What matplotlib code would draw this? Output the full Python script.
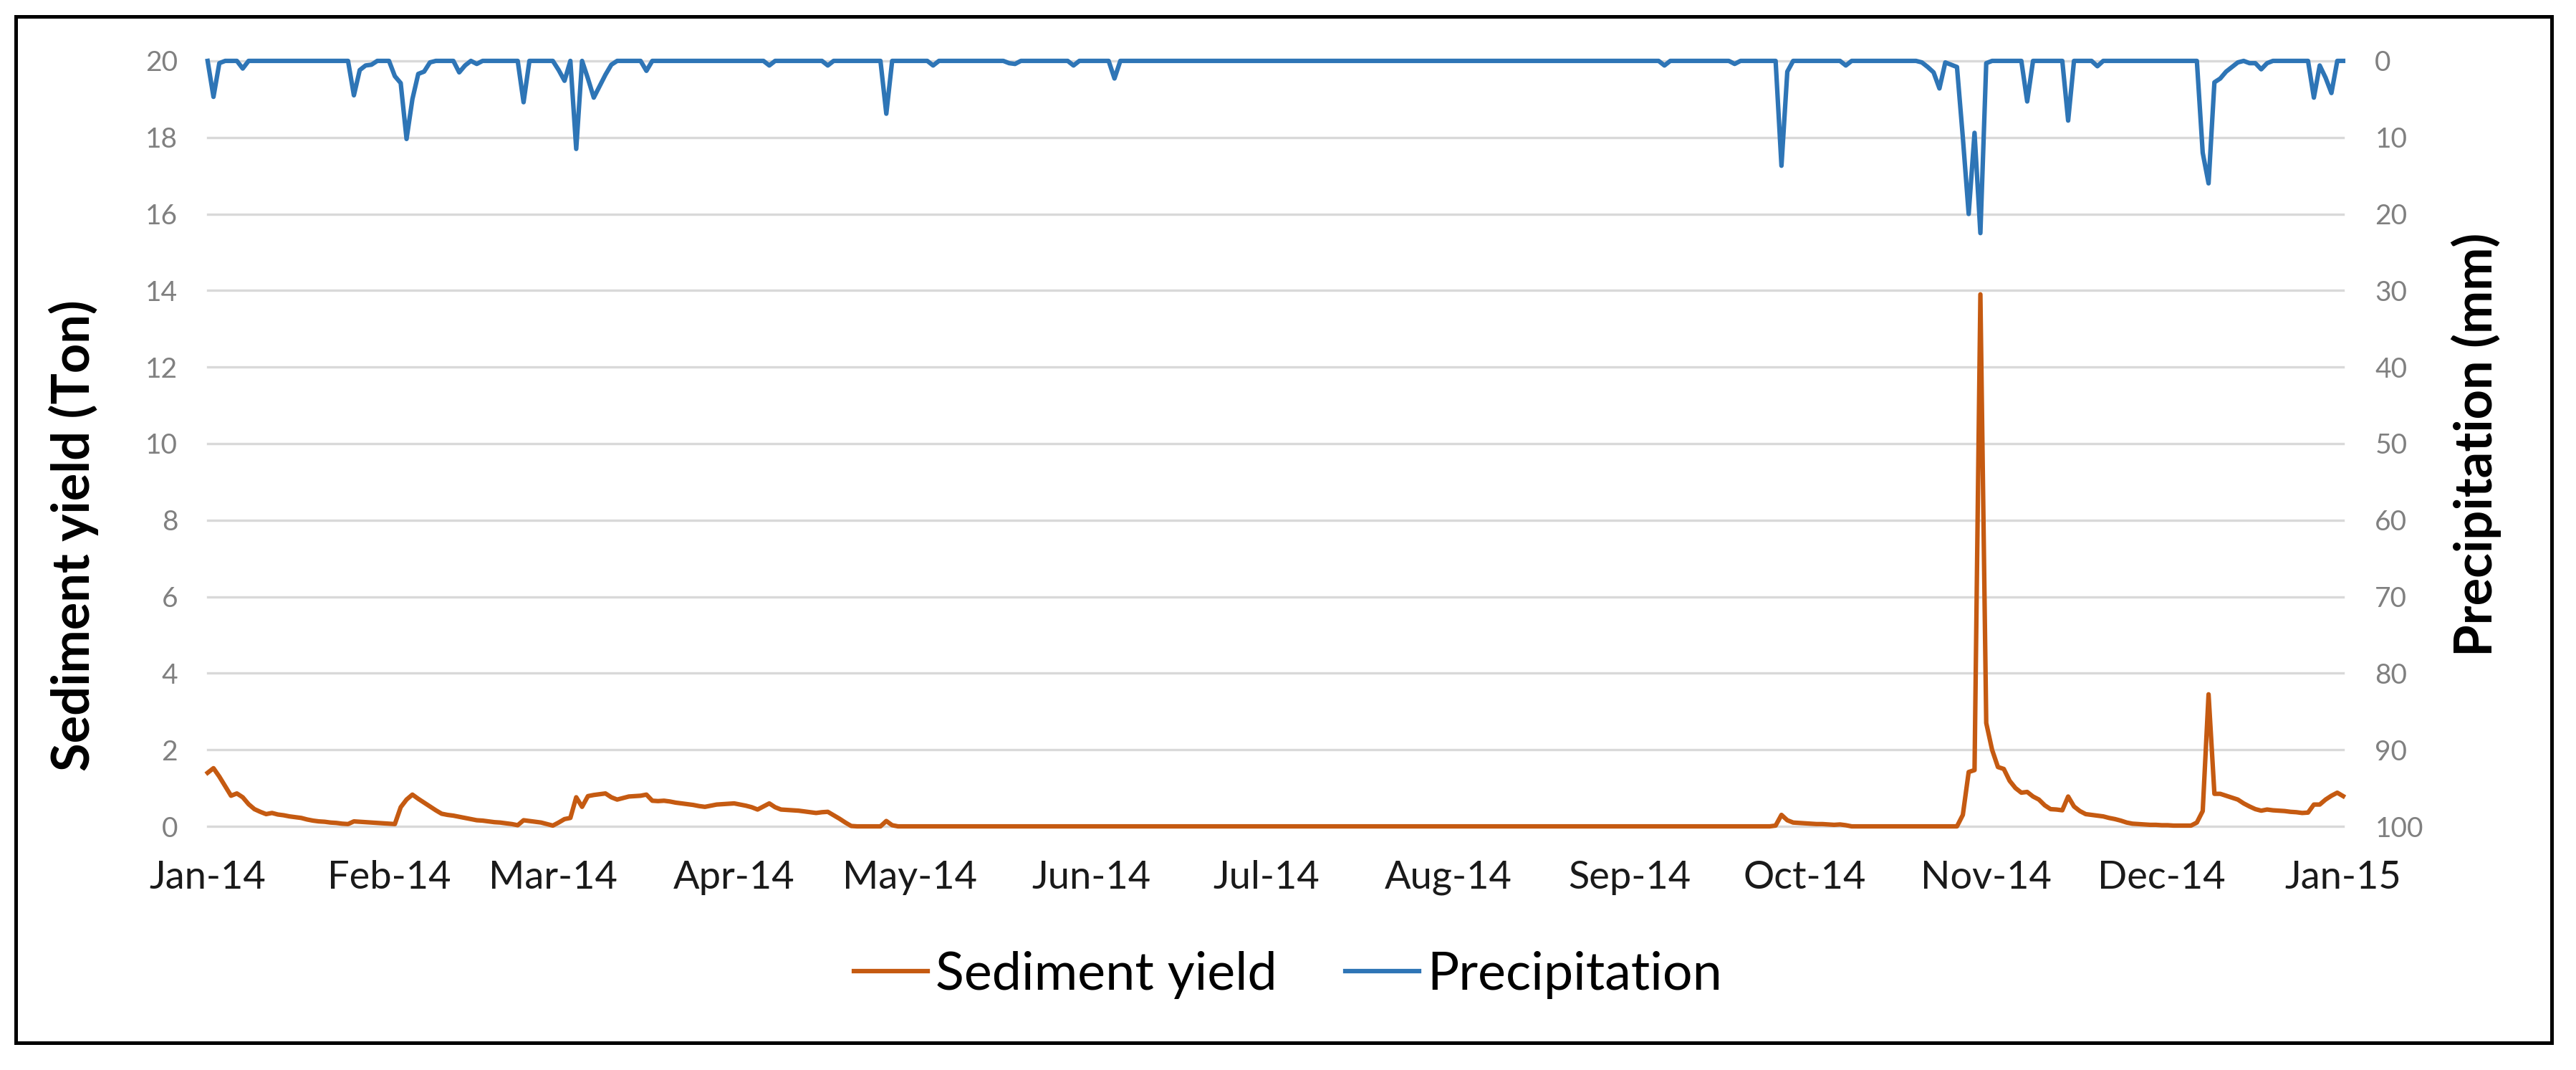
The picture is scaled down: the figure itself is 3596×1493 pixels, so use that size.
import matplotlib
matplotlib.use("Agg")
import matplotlib.pyplot as plt
import matplotlib.dates as mdates
from matplotlib.patches import Rectangle
import numpy as np
import pandas as pd

plt.rcParams['font.family'] = ['Lato', 'DejaVu Sans']

# daily series, 2014-01-01 .. 2015-01-01
dates = pd.date_range("2014-01-01", "2015-01-01", freq="D")

# precipitation (mm) on rainy days, day = days after 2014-01-01; all other days 0
rain_day = [1, 2, 6, 25, 26, 27, 28, 32, 33, 34, 35, 36, 37, 38, 43, 44, 46, 54,
            60, 61, 63, 65, 66, 67, 68, 69, 75, 96, 106, 116, 124, 137, 138, 148,
            155, 249, 261, 269, 270, 280, 293, 294, 295, 296, 297, 298, 299, 300,
            301, 302, 303, 304, 311, 318, 323, 341, 342, 343, 344, 345, 346, 347,
            349, 350, 351, 352, 360, 361, 362, 363]
rain_mm = [4.7, 0.3, 1.0, 4.5, 1.2, 0.6, 0.5, 2.0, 2.9, 10.2, 5.0, 1.7, 1.4, 0.2,
           1.5, 0.6, 0.4, 5.4, 1.2, 2.6, 11.5, 2.3, 4.8, 3.3, 1.8, 0.5, 1.3, 0.6,
           0.6, 6.9, 0.6, 0.3, 0.4, 0.6, 2.3, 0.6, 0.4, 13.7, 1.4, 0.6, 0.2, 0.8,
           1.5, 3.6, 0.2, 0.5, 0.8, 10.0, 20.0, 9.4, 22.5, 0.3, 5.3, 7.8, 0.7,
           12.0, 16.0, 2.8, 2.3, 1.4, 0.8, 0.2, 0.3, 0.3, 1.1, 0.3, 4.8, 0.6, 2.2,
           4.2]

# sediment yield (Ton), non-zero stretches; zero elsewhere
sed_jan_apr = [1.40, 1.52, 1.30, 1.05, 0.80, 0.86, 0.76, 0.58, 0.45, 0.38,
               0.32, 0.35, 0.31, 0.29, 0.26, 0.24, 0.22, 0.18, 0.15, 0.13,
               0.12, 0.10, 0.09, 0.07, 0.06, 0.13, 0.12, 0.11, 0.10, 0.09,
               0.08, 0.07, 0.06, 0.50, 0.70, 0.83, 0.72, 0.62, 0.52, 0.42,
               0.33, 0.30, 0.28, 0.25, 0.22, 0.19, 0.16, 0.15, 0.13, 0.11,
               0.10, 0.08, 0.06, 0.03, 0.16, 0.14, 0.12, 0.10, 0.06, 0.02,
               0.10, 0.19, 0.22, 0.76, 0.51, 0.79, 0.82, 0.84, 0.86, 0.76,
               0.70, 0.74, 0.78, 0.79, 0.80, 0.83, 0.67, 0.66, 0.67, 0.65,
               0.62, 0.60, 0.58, 0.56, 0.53, 0.51, 0.54, 0.57, 0.58, 0.59,
               0.60, 0.57, 0.54, 0.50, 0.44, 0.52, 0.60, 0.50, 0.44, 0.43,
               0.42, 0.41, 0.39, 0.37, 0.35, 0.37, 0.38, 0.29, 0.20, 0.10,
               0.01, 0.0, 0.0, 0.0, 0.0, 0.0, 0.14, 0.03, 0.0]
sed_late_sep = [0.02, 0.30, 0.16, 0.10, 0.09, 0.08, 0.07, 0.06, 0.06, 0.05,
                0.04, 0.05, 0.03]
sed_nov_dec = [0.00, 0.30, 1.42, 1.47, 13.9, 2.70, 2.00, 1.55, 1.50, 1.19,
               1.00, 0.88, 0.90, 0.78, 0.70, 0.55, 0.45, 0.44, 0.42, 0.78,
               0.52, 0.40, 0.32, 0.30, 0.28, 0.26, 0.22, 0.19, 0.15, 0.10,
               0.07, 0.06, 0.05, 0.04, 0.04, 0.03, 0.03, 0.02, 0.02, 0.02,
               0.02, 0.10, 0.40, 3.45, 0.85, 0.85, 0.80, 0.75, 0.70, 0.60,
               0.52, 0.45, 0.41, 0.44, 0.42, 0.41, 0.40, 0.38, 0.37, 0.35,
               0.36, 0.57, 0.57, 0.70, 0.80, 0.88, 0.79]

precip = pd.Series(0.0, index=dates)
precip.iloc[rain_day] = rain_mm

sediment = pd.Series(0.0, index=dates)
for start, vals in [("2014-01-01", sed_jan_apr), ("2014-09-26", sed_late_sep),
                    ("2014-10-27", sed_nov_dec)]:
    i0 = dates.get_loc(pd.Timestamp(start))
    sediment.iloc[i0:i0 + len(vals)] = vals

orange = '#c55a11'
blue = '#2e75b6'

fig = plt.figure(figsize=(35.96, 14.93), dpi=100)
ax = fig.add_axes([0.0806, 0.2277, 0.829, 0.7154])
ax2 = ax.twinx()

ax.plot(dates, sediment.values, color=orange, lw=4.5, clip_on=False, label="Sediment yield")
ax2.plot(dates, precip.values, color=blue, lw=4.5, clip_on=False, label="Precipitation")

ax.set_xlim(dates[0], dates[-1])
ax.set_ylim(0, 20)
ax.set_yticks(np.arange(0, 21, 2))
ax2.set_ylim(100, 0)
ax2.set_yticks(np.arange(0, 101, 10))

ax.xaxis.set_major_locator(mdates.MonthLocator())
ax.xaxis.set_major_formatter(mdates.DateFormatter('%b-%y'))

ax.grid(axis='y', color='#d9d9d9', lw=2.4)
ax.set_axisbelow(True)
for gl in ax.get_ygridlines():
    gl.set_clip_on(False)
for a in (ax, ax2):
    for s in a.spines.values():
        s.set_visible(False)

ax.tick_params(axis='x', length=0, pad=34, labelsize=39, labelcolor='#1a1a1a')
ax.tick_params(axis='y', length=0, pad=30, labelsize=28, labelcolor='#808080')
ax2.tick_params(axis='y', length=0, pad=32, labelsize=28, labelcolor='#808080')

fig.text(0.0286, 0.4997, "Sediment yield (Ton)", rotation=90, ha='center', va='center',
         fontsize=52, fontweight='bold')
fig.text(0.9613, 0.5847, "Precipitation (mm)", rotation=90, ha='center', va='center',
         fontsize=52, fontweight='bold')

h1, l1 = ax.get_legend_handles_labels()
h2, l2 = ax2.get_legend_handles_labels()
fig.legend(h1 + h2, l1 + l2, loc='center', bbox_to_anchor=(0.5, 0.089), ncol=2,
           frameon=False, fontsize=53, handlelength=1.4, handletextpad=0.15,
           columnspacing=1.3)

fig.add_artist(Rectangle((0.0061, 0.0255), 0.9844, 0.9591, transform=fig.transFigure,
                         fill=False, ec='black', lw=3.6))

fig.savefig("out.png", dpi=100)
